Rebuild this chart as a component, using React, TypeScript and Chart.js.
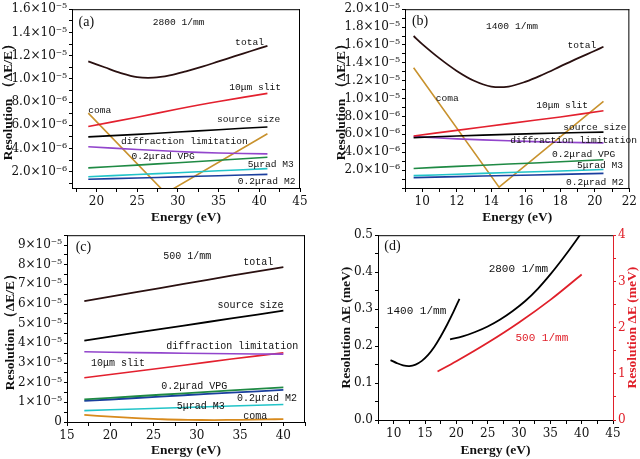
import React, { useEffect, useRef } from "react";
import { Chart, registerables } from "chart.js";
Chart.register(...registerables);

// ---------- Panel (a) 2800 l/mm, resolution in units of 1e-6 ----------
const energyA = [19, 21, 23, 25, 27, 29, 31, 33, 35, 37, 39, 41];
const totalA = [11.5, 11.0, 10.5, 10.15, 10.1, 10.3, 10.65, 11.05, 11.5, 11.95, 12.4, 12.85];
const lineEnergyA = [19, 25, 30, 35, 41];
const slitA = [5.9, 6.7, 7.4, 8.05, 8.75];
const sourceA = [5.0, 5.22, 5.42, 5.62, 5.86];
const diffA = [4.15, 3.92, 3.74, 3.62, 3.54];
const vpgA = [2.33, 2.57, 2.78, 2.99, 3.25];
const m3A = [1.57, 1.76, 1.92, 2.08, 2.27];
const m2A = [1.35, 1.46, 1.56, 1.66, 1.77];
const comaEnergyA = [19, 28.5, 41];
const comaA = [7.05, 0.15, 5.27];

// ---------- Panel (b) 1400 l/mm, units of 1e-6 ----------
const energyB = [9.5, 10, 11, 12, 13, 14, 15, 16, 17, 18, 19, 20, 20.5];
const totalB = [17.0, 16.1, 14.5, 13.1, 12.0, 11.35, 11.35, 11.9, 12.7, 13.6, 14.5, 15.35, 15.8];
const lineEnergyB = [9.5, 12, 15, 18, 20.5];
const slitB = [5.82, 6.45, 7.2, 7.95, 8.65];
const sourceB = [5.64, 5.82, 6.0, 6.15, 6.25];
const diffB = [5.75, 5.5, 5.28, 5.12, 5.05];
const vpgB = [2.18, 2.42, 2.68, 2.93, 3.16];
const m3B = [1.38, 1.54, 1.73, 1.9, 2.07];
const m2B = [1.16, 1.27, 1.4, 1.52, 1.64];
const comaEnergyB = [9.5, 14.45, 20.5];
const comaB = [13.45, 0.1, 9.7];

// ---------- Panel (c) 500 l/mm, units of 1e-5 ----------
const lineEnergyC = [17, 23, 28.5, 34, 40];
const totalC = [6.15, 6.6, 7.02, 7.44, 7.88];
const sourceC = [4.14, 4.54, 4.9, 5.27, 5.66];
const diffC = [3.57, 3.53, 3.5, 3.47, 3.45];
const slitC = [2.25, 2.58, 2.89, 3.2, 3.52];
const vpgC = [1.15, 1.31, 1.46, 1.61, 1.76];
const m2C = [1.07, 1.22, 1.36, 1.49, 1.63];
const m3C = [0.58, 0.66, 0.74, 0.81, 0.89];
const comaEnergyC = [17, 20, 23, 26, 29, 32, 35, 38, 40];
const comaC = [0.36, 0.27, 0.2, 0.14, 0.11, 0.1, 0.11, 0.13, 0.15];

// ---------- Panel (d) absolute resolution, meV ----------
const energy1400 = [9.5, 10.5, 11.5, 12.5, 13.5, 14.5, 15.5, 16.5, 17.5, 18.5, 19.5, 20.5];
const res1400 = [0.162, 0.154, 0.148, 0.146, 0.15, 0.16, 0.176, 0.198, 0.226, 0.257, 0.291, 0.328];
const energy2800 = [19, 21, 23, 25, 27, 29, 31, 33, 35, 37, 39, 41];
const res2800 = [0.218, 0.226, 0.238, 0.253, 0.272, 0.295, 0.322, 0.355, 0.394, 0.437, 0.483, 0.532];
const energy500 = [17, 20, 25, 30, 35, 40];
const res500 = [1.05, 1.27, 1.67, 2.11, 2.6, 3.15];

// ---------- Labels ----------
const X_TITLE = "Energy (eV)";
const Y_TITLE_REL = "Resolution （ΔE/E）";
const Y_TITLE_ABS = "Resolution ΔE (meV)";

type Note = { text: string; x: number; y: number; align?: CanvasTextAlign; color?: string; size?: number; family?: string };

const notesA: Note[] = [
  { text: "(a)", x: 17.8, y: 14.9, align: "left", size: 14, family: "Liberation Serif" },
  { text: "2800 1/mm", x: 30.1, y: 14.9 },
  { text: "total", x: 38.8, y: 13.1 },
  { text: "10μm slit", x: 39.5, y: 9.22 },
  { text: "coma", x: 19.0, y: 7.3, align: "left" },
  { text: "source size", x: 38.7, y: 6.53 },
  { text: "diffraction limitation", x: 30.8, y: 4.57 },
  { text: "0.2μrad VPG", x: 28.2, y: 3.31 },
  { text: "5μrad M3", x: 41.4, y: 2.61 },
  { text: "0.2μrad M2", x: 40.9, y: 1.15 },
];
const notesB: Note[] = [
  { text: "(b)", x: 9.4, y: 18.65, align: "left", size: 14, family: "Liberation Serif" },
  { text: "1400 1/mm", x: 15.2, y: 18.1 },
  { text: "total", x: 19.25, y: 15.93 },
  { text: "coma", x: 11.45, y: 10.0 },
  { text: "10μm slit", x: 18.1, y: 9.2 },
  { text: "source size", x: 20.0, y: 6.73 },
  { text: "diffraction limitation", x: 18.77, y: 5.35 },
  { text: "0.2μrad VPG", x: 19.35, y: 3.75 },
  { text: "5μrad M3", x: 20.3, y: 2.47 },
  { text: "0.2μrad M2", x: 20.0, y: 0.65 },
];
const notesC: Note[] = [
  { text: "(c)", x: 16.0, y: 8.88, align: "left", size: 14, family: "Liberation Serif" },
  { text: "500 1/mm", x: 28.9, y: 8.42 },
  { text: "total", x: 37.1, y: 8.14 },
  { text: "source size", x: 36.2, y: 5.95 },
  { text: "diffraction limitation", x: 34.1, y: 3.85 },
  { text: "10μm slit", x: 20.9, y: 2.99 },
  { text: "0.2μrad VPG", x: 29.7, y: 1.81 },
  { text: "0.2μrad M2", x: 38.1, y: 1.18 },
  { text: "5μrad M3", x: 30.45, y: 0.82 },
  { text: "coma", x: 36.75, y: 0.28 },
];
const notesD: Note[] = [
  { text: "(d)", x: 8.5, y: 0.47, align: "left", size: 14, family: "Liberation Serif" },
  { text: "2800 1/mm", x: 29.9, y: 0.408 },
  { text: "1400 1/mm", x: 13.65, y: 0.294 },
  { text: "500 1/mm", x: 33.65, y: 0.222, color: "#e0202a" },
];

const C = {
  total: "#2a1010",
  slit: "#e3202e",
  source: "#000000",
  diff: "#9245cc",
  vpg: "#1f8a44",
  m3: "#22c4c8",
  m2: "#1a3e9e",
  coma: "#c8922e",
  red: "#e0202a",
};

const TICK_FONT = { family: "DejaVu Serif", size: 12 };
const YTICK_FONT = { family: "DejaVu Serif", size: 12 };
const TITLE_FONT = { family: "Liberation Serif", size: 13.5, weight: "bold" as const };
const NOTE_FAMILY = "Liberation Mono";

const pts = (xs: number[], ys: number[]) => xs.map((x, i) => ({ x, y: ys[i] }));

function ds(data: { x: number; y: number }[], color: string, width = 1.6, smooth = true) {
  return {
    data,
    borderColor: color,
    backgroundColor: color,
    borderWidth: width,
    pointRadius: 0,
    fill: false,
    tension: smooth ? 0.35 : 0,
    cubicInterpolationMode: "default" as const,
  };
}

const near = (v: number, step: number) => Math.abs(v / step - Math.round(v / step)) < 1e-6;

function makeNotes(items: Note[], defaultSize: number) {
  return {
    id: "notes",
    afterDatasetsDraw(chart: any) {
      const { ctx, scales } = chart;
      ctx.save();
      for (const n of items) {
        ctx.font = `${n.size || defaultSize}px "${n.family || NOTE_FAMILY}"`;
        ctx.fillStyle = n.color || "#111";
        ctx.textAlign = n.align || "center";
        ctx.textBaseline = "middle";
        ctx.fillText(n.text, scales.x.getPixelForValue(n.x), scales.y.getPixelForValue(n.y));
      }
      ctx.restore();
    },
  };
}

function makeFrame(drawRight: boolean, rightTitle?: string) {
  return {
    id: "frame",
    afterDraw(chart: any) {
      const { ctx, chartArea: a } = chart;
      ctx.save();
      ctx.strokeStyle = "#000";
      ctx.lineWidth = 1;
      ctx.beginPath();
      ctx.moveTo(a.left, a.top + 0.5);
      ctx.lineTo(a.right, a.top + 0.5);
      if (drawRight) {
        ctx.moveTo(a.right - 0.5, a.top);
        ctx.lineTo(a.right - 0.5, a.bottom);
      }
      ctx.stroke();
      if (rightTitle) {
        ctx.fillStyle = C.red;
        ctx.font = `bold ${TITLE_FONT.size}px "${TITLE_FONT.family}"`;
        ctx.textAlign = "center";
        ctx.textBaseline = "middle";
        ctx.translate(chart.width - 7, (a.top + a.bottom) / 2);
        ctx.rotate(-Math.PI / 2);
        ctx.fillText(rightTitle, 0, 0);
      }
      ctx.restore();
    },
  };
}

function xAxis(min: number, max: number, step: number, major: number, height: number) {
  return {
    type: "linear" as const,
    position: "bottom" as const,
    min,
    max,
    afterFit: (s: any) => {
      s.height = height;
    },
    border: { color: "#000", width: 1 },
    grid: { drawOnChartArea: false, drawTicks: true, tickLength: 4, tickColor: "#000" },
    ticks: {
      stepSize: step,
      autoSkip: false,
      maxRotation: 0,
      minRotation: 0,
      includeBounds: false,
      padding: 3,
      color: "#111",
      font: TICK_FONT,
      callback: (v: any) => (near(Number(v), major) ? String(Math.round(Number(v))) : ""),
    },
    title: { display: true, text: X_TITLE, color: "#111", font: TITLE_FONT, padding: { top: 0, bottom: 0 } },
  };
}

function yAxis(
  min: number,
  max: number,
  step: number,
  width: number,
  titlePad: number,
  fmt: (v: number) => string,
  title: string,
  color = "#111",
  position: "left" | "right" = "left"
) {
  return {
    type: "linear" as const,
    position,
    min,
    max,
    afterFit: (s: any) => {
      s.width = width;
    },
    border: { color: color === "#111" ? "#000" : color, width: 1 },
    grid: { drawOnChartArea: false, drawTicks: true, tickLength: 3, tickColor: color === "#111" ? "#000" : color },
    ticks: {
      stepSize: step,
      autoSkip: false,
      includeBounds: false,
      padding: 2,
      color,
      font: YTICK_FONT,
      callback: (v: any) => fmt(Number(v)),
    },
    title: {
      display: position === "left",
      text: title,
      color,
      font: TITLE_FONT,
      padding: { top: titlePad, bottom: 0 },
    },
  };
}

const fmtRel = (v: number) => {
  if (!near(v, 2) || v < 1) return "";
  const r = Math.round(v);
  return r >= 10 ? `${(r / 10).toFixed(1)}×10⁻⁵` : `${r.toFixed(1)}×10⁻⁶`;
};
const fmtC = (v: number) => {
  if (!near(v, 1)) return "";
  const r = Math.round(v);
  return r === 0 ? "0" : `${r}×10⁻⁵`;
};
const fmtDL = (v: number) => (near(v, 0.1) ? v.toFixed(1) : "");
const fmtDR = (v: number) => (near(v, 1) ? String(Math.round(v)) : "");

function baseOptions(padding: any) {
  return {
    responsive: false,
    maintainAspectRatio: false,
    animation: false as const,
    devicePixelRatio: 1,
    layout: { padding },
    plugins: { legend: { display: false }, tooltip: { enabled: false }, title: { display: false } },
  };
}

export default function App() {
  const ra = useRef<HTMLCanvasElement>(null);
  const rb = useRef<HTMLCanvasElement>(null);
  const rc = useRef<HTMLCanvasElement>(null);
  const rd = useRef<HTMLCanvasElement>(null);

  useEffect(() => {
    const charts: Chart[] = [];

    charts.push(
      new Chart(ra.current!, {
        type: "line",
        data: {
          datasets: [
            ds(pts(energyA, totalA), C.total, 1.8),
            ds(pts(lineEnergyA, slitA), C.slit),
            ds(pts(lineEnergyA, sourceA), C.source),
            ds(pts(lineEnergyA, diffA), C.diff),
            ds(pts(lineEnergyA, vpgA), C.vpg),
            ds(pts(lineEnergyA, m3A), C.m3),
            ds(pts(lineEnergyA, m2A), C.m2),
            ds(pts(comaEnergyA, comaA), C.coma, 1.6, false),
          ],
        },
        options: {
          ...baseOptions({ left: 0, top: 4, right: 20, bottom: 0 }),
          scales: {
            x: xAxis(17, 45, 2.5, 5, 38),
            y: yAxis(0.6, 16, 1, 72, 0, fmtRel, Y_TITLE_REL),
          },
        } as any,
        plugins: [makeNotes(notesA, 9.6), makeFrame(true)],
      })
    );

    charts.push(
      new Chart(rb.current!, {
        type: "line",
        data: {
          datasets: [
            ds(pts(energyB, totalB), C.total, 1.8),
            ds(pts(lineEnergyB, slitB), C.slit),
            ds(pts(lineEnergyB, sourceB), C.source),
            ds(pts(lineEnergyB, diffB), C.diff),
            ds(pts(lineEnergyB, vpgB), C.vpg),
            ds(pts(lineEnergyB, m3B), C.m3),
            ds(pts(lineEnergyB, m2B), C.m2),
            ds(pts(comaEnergyB, comaB), C.coma, 1.6, false),
          ],
        },
        options: {
          ...baseOptions({ left: 0, top: 4, right: 2, bottom: 0 }),
          scales: {
            x: xAxis(9, 22, 1, 2, 38),
            y: yAxis(0, 20, 1, 85, 13, fmtRel, Y_TITLE_REL),
          },
        } as any,
        plugins: [makeNotes(notesB, 9.6), makeFrame(true)],
      })
    );

    charts.push(
      new Chart(rc.current!, {
        type: "line",
        data: {
          datasets: [
            ds(pts(lineEnergyC, totalC), C.total, 1.8),
            ds(pts(lineEnergyC, sourceC), C.source, 1.8),
            ds(pts(lineEnergyC, diffC), C.diff),
            ds(pts(lineEnergyC, slitC), C.slit),
            ds(pts(lineEnergyC, vpgC), C.vpg, 1.8),
            ds(pts(lineEnergyC, m2C), C.m2, 1.8),
            ds(pts(lineEnergyC, m3C), C.m3),
            ds(pts(comaEnergyC, comaC), "#d88a1c", 1.8),
          ],
        },
        options: {
          ...baseOptions({ left: 0, top: 4, right: 15, bottom: 0 }),
          scales: {
            x: xAxis(15, 42.5, 2.5, 5, 37),
            y: yAxis(0, 9.5, 0.5, 67, 2, fmtC, Y_TITLE_REL),
          },
        } as any,
        plugins: [makeNotes(notesC, 10), makeFrame(true)],
      })
    );

    charts.push(
      new Chart(rd.current!, {
        type: "line",
        data: {
          datasets: [
            { ...ds(pts(energy1400, res1400), "#000", 1.8), yAxisID: "y" },
            { ...ds(pts(energy2800, res2800), "#000", 1.8), yAxisID: "y" },
            { ...ds(pts(energy500, res500), C.red, 1.8), yAxisID: "y2" },
          ],
        },
        options: {
          ...baseOptions({ left: 0, top: 5, right: 0, bottom: 0 }),
          scales: {
            x: xAxis(7.5, 45, 2.5, 5, 39),
            y: yAxis(0, 0.5, 0.05, 58, 18, fmtDL, Y_TITLE_ABS),
            y2: yAxis(0, 4, 0.5, 27, 0, fmtDR, Y_TITLE_ABS, C.red, "right"),
          },
        } as any,
        plugins: [makeNotes(notesD, 11), makeFrame(false, Y_TITLE_ABS)],
      })
    );

    return () => charts.forEach((c) => c.destroy());
  }, []);

  const cv = (left: number, top: number, w: number, h: number) => ({
    position: "absolute" as const,
    left,
    top,
    width: w,
    height: h,
    display: "block",
  });

  return (
    <div style={{ position: "fixed", left: 0, top: 0, width: 640, height: 459, background: "#fff", overflow: "hidden" }}>
      <canvas ref={ra} width={320} height={226} style={cv(0, 0, 320, 226)} />
      <canvas ref={rb} width={320} height={226} style={cv(320, 0, 320, 226)} />
      <canvas ref={rc} width={320} height={233} style={cv(0, 226, 320, 233)} />
      <canvas ref={rd} width={320} height={233} style={cv(320, 226, 320, 233)} />
    </div>
  );
}
